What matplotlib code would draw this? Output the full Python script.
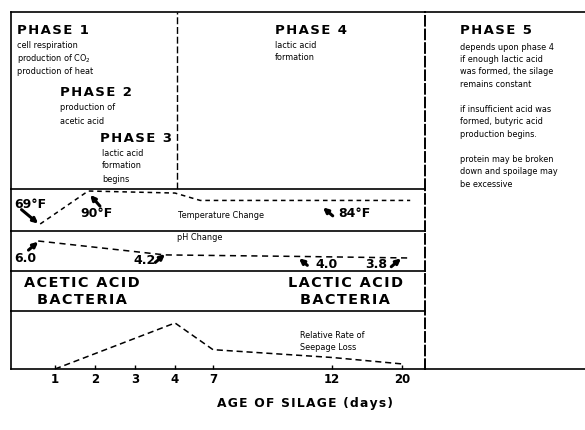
# Silage fermentation phases diagram
import matplotlib.pyplot as plt

W, H = 585, 430

# --- data ---
day_labels = ['1', '2', '3', '4', '7', '12', '20']
day_pos = [1, 2, 3, 4, 4.95, 7.93, 9.68]     # schematic (non-linear) time axis

temp_pos = [0.63, 1.83, 4.0, 4.63, 9.88]
temp_f = [69, 90, 88.7, 84, 84]

ph_pos = [0.58, 3.75, 7.13, 9.88]
ph_val = [6.0, 4.2, 4.0, 3.8]

seep_pos = [1, 4, 4.95, 7.93, 9.68]
seep_val = [0.0, 1.0, 0.42, 0.25, 0.11]

phase_titles = ['PHASE 1', 'PHASE 2', 'PHASE 3', 'PHASE 4', 'PHASE 5']
phase1_notes = ['cell respiration', 'production of CO$_2$', 'production of heat']
phase2_notes = ['production of', 'acetic acid']
phase3_notes = ['lactic acid', 'formation', 'begins']
phase4_notes = ['lactic acid', 'formation']
phase5_notes = ['depends upon phase 4', 'if enough lactic acid',
                'was formed, the silage', 'remains constant', '',
                'if insufficient acid was', 'formed, butyric acid',
                'production begins.', '', 'protein may be broken',
                'down and spoilage may', 'be excessive']

fig = plt.figure(figsize=(5.85, 4.30), dpi=100)

SMALL = ['Liberation Sans Narrow', 'DejaVu Sans']
DASH = (0, (5, 2))


def box(x0, y0, x1, y1):
    return fig.add_axes([x0 / W, 1 - y1 / H, (x1 - x0) / W, (y1 - y0) / H])


def put(x, y, s, **kw):
    kw.setdefault('va', 'center')
    fig.text(x / W, 1 - y / H, s, **kw)


def spaced(s):
    # slightly wider letter spacing like the original lettering
    return '\u200a'.join(s)


def bold(x, y, s, size=9, wide=True, **kw):
    put(x, y, spaced(s) if wide else s, fontsize=size, fontweight='bold', **kw)


def small(x, y, s, size=5.9, **kw):
    put(x, y, s, fontsize=size, family=SMALL, **kw)


XL = (-0.1, 10.25)
ax_ph1 = box(11, 12, 425, 189)
ax_t = box(11, 189, 425, 231)
ax_p = box(11, 231, 425, 271)
ax_b = box(11, 271, 425, 311)
ax_s = box(11, 311, 425, 369)
ax_5 = box(425, 12, 585, 369)

for ax in [ax_ph1, ax_t, ax_p, ax_b, ax_s]:
    ax.set_xlim(XL)
    ax.set_yticks([])
    ax.set_xticks([])
    for sp in ax.spines.values():
        sp.set_linewidth(1.2)
        sp.set_edgecolor('black')
    ax.spines['bottom'].set_visible(False)
    ax.spines['right'].set_linestyle(DASH)
    ax.spines['right'].set_linewidth(1.4)
    ax.patch.set_alpha(0)

ax_5.set_xticks([])
ax_5.set_yticks([])
ax_5.spines['left'].set_visible(False)
ax_5.spines['right'].set_visible(False)
for sp in ['top', 'bottom']:
    ax_5.spines[sp].set_linewidth(1.2)
ax_5.set_zorder(-1)

# divider between phases 1-3 and phase 4
ax_ph1.axvline(4.05, color='black', lw=1.0, ls=DASH)

# temperature
ax_t.plot(temp_pos, temp_f, color='black', lw=1.1, ls=(0, (3, 2.5)))
ax_t.set_ylim(64.54, 91.28)

# pH
ax_p.plot(ph_pos, ph_val, color='black', lw=1.1, ls=(0, (4, 3)))
ax_p.set_ylim(2.117, 7.294)

# seepage
ax_s.plot(seep_pos, seep_val, color='black', lw=1.1, ls=(0, (4, 2.5)))
ax_s.set_ylim(0, 1.26)
ax_s.spines['bottom'].set_visible(True)
ax_s.set_xticks(day_pos)
ax_s.set_xticklabels(day_labels, fontsize=8.5, fontweight='bold')
ax_s.tick_params(axis='x', direction='in', length=3, width=1, pad=3)

bold(305, 404, 'AGE OF SILAGE (days)', size=8.8, ha='center')

# phase texts
bold(17, 30, phase_titles[0], size=9.5)
for i, s in enumerate(phase1_notes):
    small(17, 45 + 13.5 * i, s)
bold(60, 92, phase_titles[1], size=9.5)
for i, s in enumerate(phase2_notes):
    small(60, 108 + 13 * i, s)
bold(100, 138, phase_titles[2], size=9.5)
for i, s in enumerate(phase3_notes):
    small(102, 153 + 13 * i, s)
bold(275, 30, phase_titles[3], size=9.5)
for i, s in enumerate(phase4_notes):
    small(275, 45 + 13 * i, s)
bold(460, 30, phase_titles[4], size=9.5)
for i, s in enumerate(phase5_notes):
    small(460, 47 + 12.5 * i, s)

# temperature labels and arrows
arrow = dict(arrowstyle='-|>', color='black', lw=2.2, mutation_scale=7,
             shrinkA=0, shrinkB=0)
bold(14, 205, '69°F', size=9, wide=False)
bold(80, 214, '90°F', size=9, wide=False)
bold(338, 214, '84°F', size=9, wide=False)
small(178, 215, 'Temperature Change')
ax_t.annotate('', xy=(temp_pos[0] - 0.05, temp_f[0] + 0.3), xytext=(-12, 10),
              textcoords='offset points', arrowprops=arrow)
ax_t.annotate('', xy=(temp_pos[1] + 0.05, temp_f[1] - 2.5), xytext=(7, -8),
              textcoords='offset points', arrowprops=arrow)
ax_t.annotate('', xy=(7.7, temp_f[-1] - 4.5), xytext=(7, -6),
              textcoords='offset points', arrowprops=arrow)

# pH labels and arrows
bold(14, 258, '6.0', size=9, wide=False)
bold(133, 260, '4.2', size=9, wide=False)
bold(315, 264, '4.0', size=9, wide=False)
bold(365, 264, '3.8', size=9, wide=False)
small(177, 238, 'pH Change')
ax_p.annotate('', xy=(ph_pos[0], ph_val[0] - 0.1), xytext=(-7, -6),
              textcoords='offset points', arrowprops=arrow)
ax_p.annotate('', xy=(3.75, 4.3), xytext=(-7, -6),
              textcoords='offset points', arrowprops=arrow)
ax_p.annotate('', xy=(7.1, 3.75), xytext=(6, -5),
              textcoords='offset points', arrowprops=arrow)
ax_p.annotate('', xy=(9.65, 3.75), xytext=(-7, -6),
              textcoords='offset points', arrowprops=arrow)

# bacteria
bold(82, 283, 'ACETIC ACID', size=10.4, ha='center')
bold(82, 300, 'BACTERIA', size=10.4, ha='center')
bold(345, 283, 'LACTIC ACID', size=10.4, ha='center')
bold(345, 300, 'BACTERIA', size=10.4, ha='center')

# seepage label
small(300, 335, 'Relative Rate of')
small(300, 348, 'Seepage Loss')

fig.savefig('out.png', dpi=100, facecolor='white')
